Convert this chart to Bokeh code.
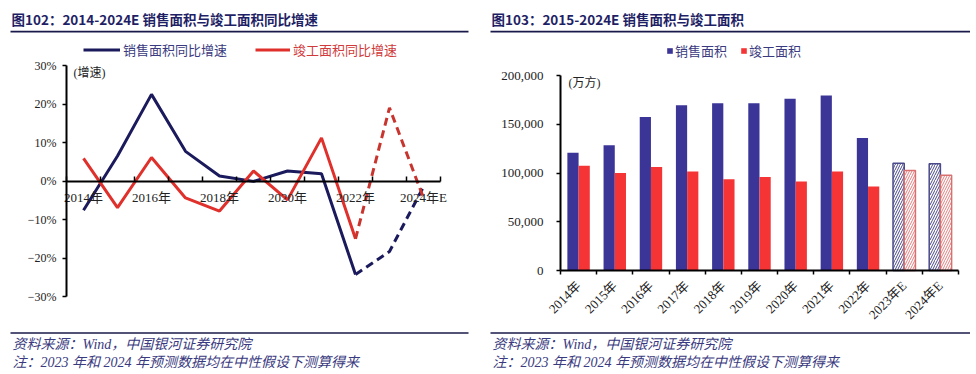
from bokeh.plotting import figure
from bokeh.models import (ColumnDataSource, Range1d, LinearAxis, FixedTicker, Label,
                          BoxAnnotation, Legend, LegendItem, CustomJSTickFormatter,
                          NumeralTickFormatter)
from bokeh.layouts import row
from bokeh.embed import file_html
from bokeh.resources import INLINE
from math import pi

# ---------------- data ----------------
years = ["2014年", "2015年", "2016年", "2017年", "2018年", "2019年",
         "2020年", "2021年", "2022年", "2023年E", "2024年E"]
sales_growth = [-7.6, 6.5, 22.5, 7.7, 1.3, -0.1, 2.6, 1.9, -24.3, -18.3, -1.5]
completion_growth = [5.9, -6.9, 6.1, -4.4, -7.8, 2.6, -4.9, 11.2, -15.0, 19.0, -4.4]
n_actual = 9  # 2014-2022 actual, last two are estimates

sales_area = [120649, 128495, 157349, 169408, 171465, 171558, 176086, 179433, 135837, 110000, 109500]
completion_area = [107459, 100039, 106128, 101486, 93550, 95942, 91218, 101412, 86222, 102600, 97800]

growth_ticks = [-30, -20, -10, 0, 10, 20, 30]
area_ticks = [0, 50000, 100000, 150000, 200000]

left_title = "图102：2014-2024E 销售面积与竣工面积同比增速"
right_title = "图103：2015-2024E 销售面积与竣工面积"
note1 = "资料来源：Wind，中国银河证券研究院"
note2 = "注：2023 年和 2024 年预测数据均在中性假设下测算得来"

NAVY_LINE = "#1b1a5c"
RED_LINE = "#e0302b"
NAVY_BAR = "#3a3597"
RED_BAR = "#f53535"
TITLE_C = "#1f1f66"
NOTE_C = "#3a3a80"
SERIF = "Liberation Serif, Noto Sans CJK SC"
SANS = "Noto Sans CJK SC"

H = 372
TOP = 0


def sx(p_left, X):
    return X - p_left


def sy(Y):
    return (TOP + H) - Y


def add_label(p, pl_, X, Y, text, size, color, style="normal", font=SERIF):
    p.add_layout(Label(x=sx(pl_, X), y=sy(Y), x_units="screen", y_units="screen", text=text,
                       text_font_size=size, text_color=color, text_font_style=style,
                       text_font=font, text_baseline="middle", text_align="left"))


def add_hline(p, pl_, x0, x1, y0, y1, color):
    p.add_layout(BoxAnnotation(left=sx(pl_, x0), right=sx(pl_, x1), top=sy(y0), bottom=sy(y1),
                               left_units="screen", right_units="screen",
                               top_units="screen", bottom_units="screen",
                               fill_color=color, fill_alpha=1.0, line_color=None))


def decorate(p, pl_, x0, x1, title):
    add_label(p, pl_, x0 + 1, 18, title, "13.5px", TITLE_C, "bold", SANS)
    add_hline(p, pl_, x0, x1, 30.3, 32.1, "#1a1a4a")
    add_hline(p, pl_, x0, x1, 331.8, 333.3, "#1a1a4a")
    add_label(p, pl_, x0 + 2, 344, note1, "14px", NOTE_C, "italic")
    add_label(p, pl_, x0 + 2, 362, note2, "14px", NOTE_C, "italic")


def base_fig(w, xr, yr):
    p = figure(width=w, height=H, x_range=xr, y_range=yr, title=None,
               min_border=0, x_axis_location=None, y_axis_location=None,
               toolbar_location=None, output_backend="svg")
    p.outline_line_color = None
    p.grid.visible = False
    return p


def style_axis(ax, size):
    ax.axis_line_width = 2
    ax.axis_line_color = "black"
    ax.major_label_text_font = SERIF
    ax.major_label_text_font_size = size
    ax.major_label_text_color = "#222222"


label_js = "return labels[Math.floor(tick)];"

# ---------------- left: growth lines ----------------
PL = 0
LW = 480
LX0, LCW = 66, 34.0          # pixel x of first category edge, px per category
LY0, LPX = 65, 38.5 / 10.0   # pixel y of 30%, px per 1%
lxr = Range1d((PL - LX0) / LCW, (PL + LW - LX0) / LCW)
lyr = Range1d(30 - (TOP + H - LY0) / LPX, 30 + (LY0 - TOP) / LPX)
pl = base_fig(LW, lxr, lyr)

yl = LinearAxis(fixed_location=0, bounds=(growth_ticks[0], growth_ticks[-1]),
                ticker=FixedTicker(ticks=growth_ticks),
                formatter=CustomJSTickFormatter(code="return (tick < 0 ? '\u2212' : '') + Math.abs(tick).toFixed(0) + '%';"),
                major_tick_out=4, major_tick_in=0, major_tick_line_width=1.5,
                minor_tick_line_color=None, major_label_standoff=6)
style_axis(yl, "12px")
pl.add_layout(yl, "left")

n = len(years)
xl = LinearAxis(fixed_location=0, bounds=(0, n),
                ticker=FixedTicker(ticks=[i + 0.5 for i in range(0, n, 2)], minor_ticks=list(range(n + 1))),
                formatter=CustomJSTickFormatter(args=dict(labels=years), code=label_js),
                major_tick_line_color=None, major_tick_in=0, major_tick_out=0,
                minor_tick_in=5, minor_tick_out=0, minor_tick_line_width=1.5, minor_tick_line_color="black",
                major_label_standoff=9)
style_axis(xl, "13px")
pl.add_layout(xl, "below")

xs = [i + 0.5 for i in range(n)]
src_a = ColumnDataSource(dict(x=xs[:n_actual], s=sales_growth[:n_actual], c=completion_growth[:n_actual]))
src_e = ColumnDataSource(dict(x=xs[n_actual - 1:], s=sales_growth[n_actual - 1:], c=completion_growth[n_actual - 1:]))
r_s = pl.line("x", "s", source=src_a, line_color=NAVY_LINE, line_width=3)
pl.line("x", "s", source=src_e, line_color=NAVY_LINE, line_width=3, line_dash="8 5")
r_c = pl.line("x", "c", source=src_a, line_color=RED_LINE, line_width=3)
pl.line("x", "c", source=src_e, line_color="#c8352e", line_width=3, line_dash="8 5")

for r, lab, X, col, gw in [(r_s, "销售面积同比增速", 83, "#3a3a80", 37), (r_c, "竣工面积同比增速", 255, "#d03a3a", 35)]:
    lg = Legend(items=[LegendItem(label=lab, renderers=[r])], location=(sx(PL, X), sy(59)),
                orientation="horizontal", padding=0, margin=0, spacing=0,
                glyph_width=gw, glyph_height=13, label_standoff=3, label_height=13,
                label_text_font=SERIF, label_text_font_size="13px", label_text_color=col,
                border_line_color=None, background_fill_alpha=0)
    pl.add_layout(lg)

add_label(pl, PL, 73, 72, "(增速)", "12px", "#222222")
decorate(pl, PL, 10, 468, left_title)

# ---------------- right: bars ----------------
PR = 480
RW = 490
RX0, RCW = 560, 398 / 11.0
RY0, RPX = 270, 48.75 / 50000.0   # pixel y of 0, px per unit
rxr = Range1d((PR - RX0) / RCW, (PR + RW - RX0) / RCW)
ryr = Range1d(-(TOP + H - RY0) / RPX, (RY0 - TOP) / RPX)
pr = base_fig(RW, rxr, ryr)

yr = LinearAxis(fixed_location=0, bounds=(area_ticks[0], area_ticks[-1]),
                ticker=FixedTicker(ticks=area_ticks), formatter=NumeralTickFormatter(format="0,0"),
                major_tick_out=4, major_tick_in=0, major_tick_line_width=1.5,
                minor_tick_line_color=None, major_label_standoff=13)
style_axis(yr, "13px")
pr.add_layout(yr, "left")

xr = LinearAxis(fixed_location=0, bounds=(0, n),
                ticker=FixedTicker(ticks=[i + 0.5 for i in range(n)], minor_ticks=list(range(n + 1))),
                formatter=CustomJSTickFormatter(args=dict(labels=years), code=label_js),
                major_tick_line_color=None, major_tick_in=0, major_tick_out=0,
                minor_tick_in=0, minor_tick_out=4, minor_tick_line_width=1.5, minor_tick_line_color="black",
                major_label_standoff=9, major_label_orientation=pi / 4)
style_axis(xr, "13px")
pr.add_layout(xr, "below")

bw = 0.31
xs_s = [x - bw / 2 for x in xs]
xs_c = [x + bw / 2 for x in xs]
bsrc_a = ColumnDataSource(dict(xs=xs_s[:n_actual], xc=xs_c[:n_actual], s=sales_area[:n_actual], c=completion_area[:n_actual]))
bsrc_e = ColumnDataSource(dict(xs=xs_s[n_actual:], xc=xs_c[n_actual:], s=sales_area[n_actual:], c=completion_area[n_actual:]))
rb_s = pr.vbar(x="xs", top="s", width=bw, source=bsrc_a, fill_color=NAVY_BAR, line_color=None)
rb_c = pr.vbar(x="xc", top="c", width=bw, source=bsrc_a, fill_color=RED_BAR, line_color=None)
pr.vbar(x="xs", top="s", width=bw, source=bsrc_e,
        fill_color="white", line_color="#4a4a8a", line_width=1.5,
        hatch_pattern="/", hatch_color="#4a4a8a", hatch_scale=5, hatch_weight=1)
pr.vbar(x="xc", top="c", width=bw, source=bsrc_e,
        fill_color="white", line_color="#d87070", line_width=1.5,
        hatch_pattern="/", hatch_color="#e08080", hatch_scale=5, hatch_weight=1)

for r, lab, X in [(rb_s, "销售面积", 666), (rb_c, "竣工面积", 740)]:
    lg = Legend(items=[LegendItem(label=lab, renderers=[r])], location=(sx(PR, X), sy(60)),
                orientation="horizontal", padding=0, margin=0, spacing=0,
                glyph_width=7, glyph_height=7, label_standoff=2, label_height=7,
                label_text_font=SERIF, label_text_font_size="13px", label_text_color="#3a3a80",
                border_line_color=None, background_fill_alpha=0)
    pr.add_layout(lg)

add_label(pr, PR, 568, 82, "(万方)", "12px", "#222222")
decorate(pr, PR, 490, 970, right_title)

layout = row(pl, pr)
open("out.html", "w").write(file_html(layout, INLINE))
